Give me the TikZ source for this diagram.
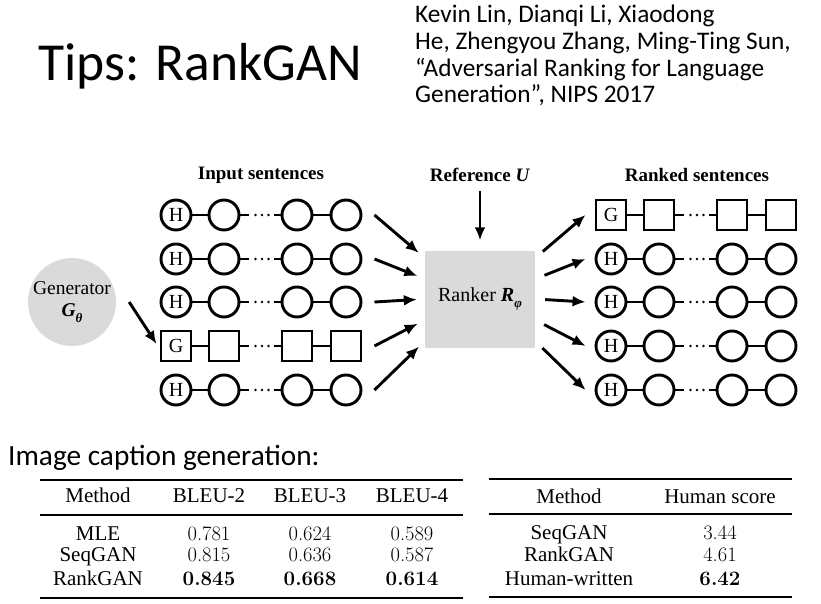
\documentclass[tikz,border=0pt]{standalone}
\usepackage{fontspec}
\usetikzlibrary{arrows.meta}
\newfontfamily\calib{Carlito}
\newfontfamily\tnr{Liberation Serif}
\definecolor{boxgray}{HTML}{DADADA}

\tikzset{
  word/.style={circle,draw,line width=2.9pt,minimum size=30pt,inner sep=0pt,font=\tnr\fontsize{20}{20}\selectfont},
  gword/.style={rectangle,draw,line width=2.9pt,minimum size=30pt,inner sep=0pt,font=\tnr\fontsize{20}{20}\selectfont},
  dotsbox/.style={inner sep=0pt,outer sep=0pt,minimum width=25pt,minimum height=10pt},
  link/.style={line width=2.9pt},
  flow/.style={line width=2.9pt,-{Latex[length=13pt,width=11pt]}},
  heading/.style={font=\tnr\bfseries\fontsize{19}{19}\selectfont},
  th/.style={anchor=base,font=\tnr\fontsize{21}{21}\selectfont},
  num/.style={anchor=base,font=\rmfamily\fontsize{20.5}{20.5}\selectfont},
  bnum/.style={num,font=\rmfamily\bfseries\fontsize{20.5}{20.5}\selectfont},
  toprule/.style={line width=2pt},
  midrule/.style={line width=1.5pt}
}

% bold italic subscript
\newcommand{\bsub}[1]{\raisebox{-0.3em}{\fontsize{13}{13}\selectfont\bfseries\itshape #1}}

% one sentence: name, x, y, style, first letter
\newcommand{\sentrow}[5]{%
  \node[#4] (#1a) at (#2,#3) {#5};
  \node[#4] (#1b) at (#2+48,#3) {};
  \node[dotsbox] (#1d) at (#2+85,#3) {};
  \node[#4] (#1c) at (#2+121,#3) {};
  \node[#4] (#1e) at (#2+170,#3) {};
  \draw[link] (#1a) -- (#1b) (#1b) -- (#1d.west) (#1d.east) -- (#1c);
  \draw[link] (#1c) -- (#1e);
  \foreach \k in {0,1,2}{\fill (#2+79.5+\k*6.5,#3) circle (1.3pt);}
}

\begin{document}
\begin{tikzpicture}[x=1pt,y=-1pt]
\useasboundingbox (0,0) rectangle (821,604);
\fill[white] (0,0) rectangle (821,604);

% title and reference
\node[anchor=base west,inner sep=0pt,font=\calib\fontsize{53.5}{53.5}\selectfont] (title) at (38,81) {Tips: RankGAN};
\foreach \t/\yy [count=\i] in {{Kevin Lin, Dianqi Li, Xiaodong}/23,
    {He, Zhengyou Zhang, Ming-Ting Sun,}/50,
    {“Adversarial Ranking for Language}/77,
    {Generation”, NIPS 2017}/103}
  \node[anchor=base west,inner sep=0pt,font=\calib\fontsize{25.3}{25.3}\selectfont] (cite\i) at (415,\yy) {\t};

% diagram
\node[heading] (inhead) at (261,175) {Input sentences};
\node[heading] (refhead) at (480,175) {Reference \textit{U}};
\node[heading] (outhead) at (697,175) {Ranked sentences};

\node[circle,fill=boxgray,minimum size=82pt,inner sep=0pt,align=center,
  font=\tnr\fontsize{19.5}{22}\selectfont] (gen) at (72,302)
  {Generator\\{\bfseries\itshape G}\bsub{θ}};
\node[rectangle,fill=boxgray,minimum width=110pt,minimum height=97pt,
  font=\tnr\fontsize{20}{20}\selectfont] (ranker) at (480,299)
  {Ranker {\bfseries\itshape R}\bsub{φ}};

\foreach \r/\yy/\kind/\lab in {1/215/word/H,2/259/word/H,3/302/word/H,4/346/gword/G,5/390/word/H}
  \sentrow{in\r}{176}{\yy}{\kind}{\lab};
\foreach \r/\yy/\kind/\lab in {1/215/gword/G,2/259/word/H,3/302/word/H,4/346/word/H,5/390/word/H}
  \sentrow{out\r}{611}{\yy}{\kind}{\lab};

\draw[flow] ([xshift=13pt]gen.east) -- ([xshift=-3pt,yshift=2pt]in4a.west);
\draw[flow,shorten <=6pt,shorten >=10pt] (refhead.south) -- (ranker.north);
\foreach \r/\dy in {1/41,2/20,3/0,4/-21,5/-42}{
  \draw[flow,shorten >=8pt] ([xshift=12pt]in\r e.east) -- ([yshift=\dy pt]ranker.west);
  \draw[flow,shorten <=10pt] ([yshift=\dy pt]ranker.east) -- ([xshift=-9pt]out\r a.west);
}

% tables
\node[anchor=base west,inner sep=0pt,font=\calib\fontsize{29.3}{29.3}\selectfont] (caption) at (8,465) {Image caption generation:};

\draw[toprule] (40,480) -- (463,480);
\draw[midrule] (40,515) -- (463,515);
\draw[toprule] (40,598) -- (463,598);
\foreach \x/\t [count=\i] in {98/Method,209/BLEU-2,310/BLEU-3,412/BLEU-4}
  \node[th] (bleuh\i) at (\x,502) {\t};
\foreach \m/\yy/\a/\b/\c [count=\i] in {MLE/540/0.781/0.624/0.589,SeqGAN/561/0.815/0.636/0.587}{
  \node[th] (bleum\i) at (98,\yy) {\m};
  \node[num] (bleua\i) at (209,\yy) {\a};
  \node[num] (bleub\i) at (310,\yy) {\b};
  \node[num] (bleuc\i) at (412,\yy) {\c};
}
\node[th] (bleum3) at (98,585) {RankGAN};
\node[bnum] (bleua3) at (209,585) {0.845};
\node[bnum] (bleub3) at (310,585) {0.668};
\node[bnum] (bleuc3) at (412,585) {0.614};

\draw[toprule] (489,479) -- (792,479);
\draw[midrule] (489,514) -- (792,514);
\draw[toprule] (489,597) -- (792,597);
\node[th] (humh1) at (569,503) {Method};
\node[th] (humh2) at (720,503) {Human score};
\foreach \m/\yy/\s [count=\i] in {SeqGAN/539/3.44,RankGAN/561/4.61}{
  \node[th] (humm\i) at (569,\yy) {\m};
  \node[num] (hums\i) at (720,\yy) {\s};
}
\node[th] (humm3) at (569,585) {Human-written};
\node[bnum] (hums3) at (720,585) {6.42};
\end{tikzpicture}
\end{document}
